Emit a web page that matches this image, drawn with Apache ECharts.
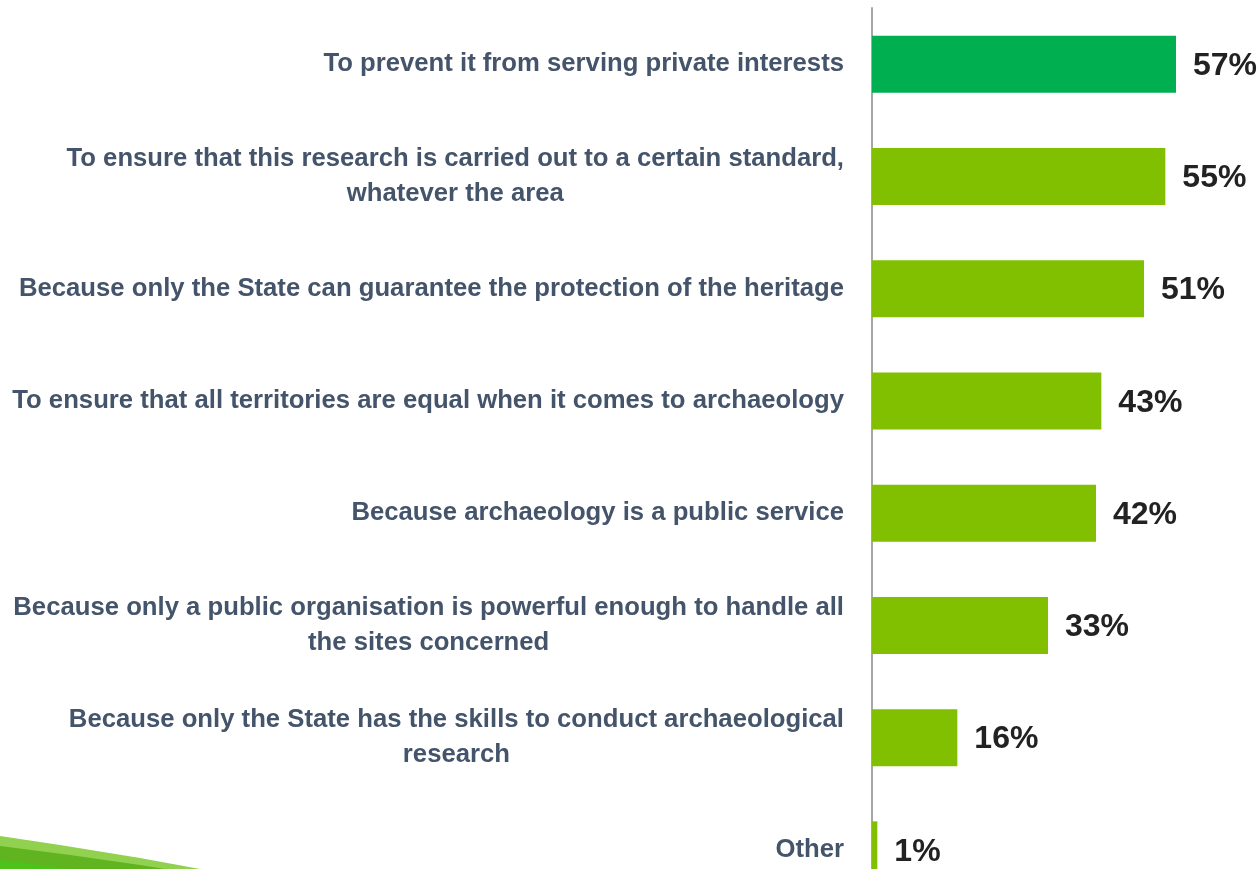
<!DOCTYPE html>
<html><head><meta charset="utf-8">
<script src="https://cdn.jsdelivr.net/npm/echarts@6/dist/echarts.min.js"></script>
<style>html,body{margin:0;padding:0;background:#fff;overflow:hidden}#c{width:1258px;height:906px}</style>
</head><body><div id="c"></div>
<script>
const categories = [
  "To prevent it from serving private interests",
  "To ensure that this research is carried out to a certain standard,\nwhatever the area",
  "Because only the State can guarantee the protection of the heritage",
  "To ensure that all territories are equal when it comes to archaeology",
  "Because archaeology is a public service",
  "Because only a public organisation is powerful enough to handle all\nthe sites concerned",
  "Because only the State has the skills to conduct archaeological\nresearch",
  "Other"
];
const values = [57, 55, 51, 43, 42, 33, 16, 1];
const highlightColor = "#00B050";
const barColor = "#80C000";

const chart = echarts.init(document.getElementById('c'));
chart.setOption({
  animation: false,
  grid: { left: 872, top: 8, right: 66, bottom: 0 },
  xAxis: { type: 'value', min: 0, max: 60, show: false },
  yAxis: {
    type: 'category', data: categories, inverse: true,
    axisLine: { show: true, lineStyle: { color: '#A6A6A6', width: 2 } },
    axisTick: { show: false },
    axisLabel: {
      margin: 28,
      fontFamily: 'Liberation Sans', fontWeight: 'bold', fontSize: 25.7,
      color: '#44546A', lineHeight: 35,
      formatter: v => v.split('\n').map(s => '{c|' + s + '}').join('\n'),
      rich: { c: { align: 'center', fontFamily: 'Liberation Sans', fontWeight: 'bold', fontSize: 25.7, color: '#44546A', lineHeight: 35 } }
    }
  },
  series: [{
    type: 'bar', barWidth: 57,
    data: values.map((v, i) => ({ value: v, itemStyle: { color: i === 0 ? highlightColor : barColor } })),
    label: {
      show: true, position: 'right', distance: 17, offset: [0, 2],
      formatter: '{c}%', fontFamily: 'Liberation Sans', fontWeight: 'bold',
      fontSize: 32, color: '#222222'
    }
  }],
  graphic: [
    { type: 'polygon', silent: true, z: -1, shape: { points: [[0,836],[60,845],[140,858],[200,869],[0,869]] }, style: { fill: '#92D050' } },
    { type: 'polygon', silent: true, z: -1, shape: { points: [[0,846],[70,855],[140,865],[165,869],[0,869]] }, style: { fill: '#5FB41F' } },
    { type: 'polygon', silent: true, z: -1, shape: { points: [[0,860],[50,866],[70,869],[0,869]] }, style: { fill: '#4CC21A' } }
  ]
});
</script></body></html>
